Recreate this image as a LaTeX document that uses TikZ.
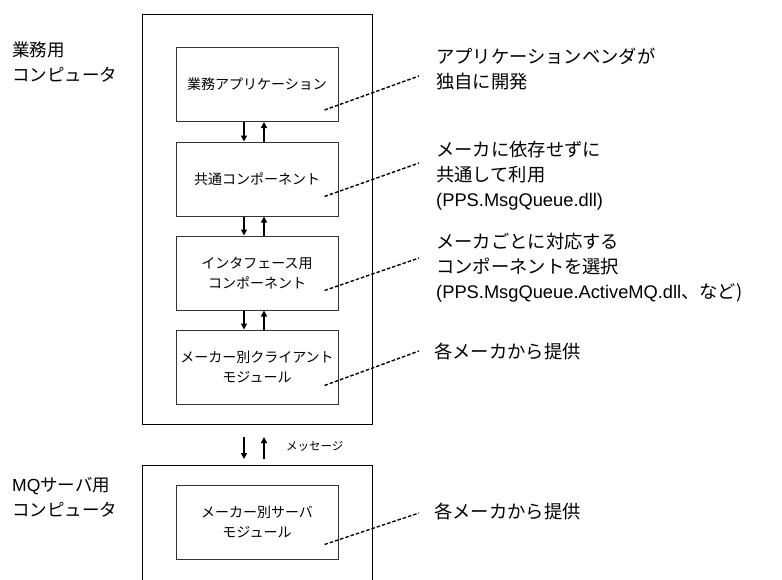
\documentclass[tikz,border=0pt]{standalone}
\usepackage{fontspec}
\setmainfont{Liberation Sans}
\newfontfamily\jp{Noto Sans CJK JP}
\usetikzlibrary{arrows.meta}
\tikzset{
  inbox/.style={draw=black!80, line width=1pt, minimum width=162pt, minimum height=74pt, align=center,
    font=\jp\fontsize{14}{20}\selectfont, inner sep=0pt},
  outbox/.style={draw=black, line width=1pt, minimum width=230pt, inner sep=0pt},
  arr/.style={line width=1.6pt, -{Triangle[length=6pt,width=6pt]}},
  note/.style={anchor=west, align=left, inner sep=0pt, font=\jp\fontsize{18.3}{25}\selectfont},
  side/.style={anchor=west, align=left, inner sep=0pt, font=\jp\fontsize{17.5}{25}\selectfont},
  lead/.style={line width=1.4pt, dash pattern=on 3.5pt off 2pt},
}
\begin{document}
\begin{tikzpicture}[x=1pt,y=-1pt]
\useasboundingbox (0,0) rectangle (782,579);
% outer boxes
\node[outbox, minimum height=410pt] (pc) at (257,219) {};
\draw[line width=1pt] (142,580) -- (142,465) coordinate (srvtl) -- (372,465) coordinate (srvtr) -- (372,580);
% inner boxes
\node[inbox] (b1) at (257,84.5) {業務アプリケーション};
\node[inbox] (b2) at (257,179) {共通コンポーネント};
\node[inbox] (b3) at (257,273) {インタフェース用\\コンポーネント};
\node[inbox] (b4) at (257,367) {メーカー別クライアント\\モジュール};
\node[inbox] (b5) at (257,522) {メーカー別サーバ\\モジュール};
% arrows
\foreach \a/\b in {b1/b2,b2/b3,b3/b4}{
  \draw[arr] ([xshift=-13pt]\a.south) -- ([xshift=-13pt]\b.north);
  \draw[arr] ([xshift=7pt]\b.north) -- ([xshift=7pt]\a.south);
}
\coordinate (m1s) at (244,437);
\coordinate (m1e) at (244,459);
\coordinate (m2s) at (264,459);
\coordinate (m2e) at (264,437);
\draw[arr] (m1s) -- (m1e);
\draw[arr] (m2s) -- (m2e);
\node[anchor=west, inner sep=0pt, font=\jp\fontsize{11.5}{14}\selectfont] (msg) at (286,446) {メッセージ};
% side labels
\node[side] (l1) at (12,62.5) {業務用\\コンピュータ};
\node[side] (l2) at (12,497.5) {{\fontspec{Liberation Sans}MQ}サーバ用\\コンピュータ};
% notes
\node[note] (n1) at (436,69.5) {アプリケーションベンダが\\独自に開発};
\node[note] (n2) at (436,176) {メーカに依存せずに\\共通して利用\\{\fontspec{Liberation Sans}(PPS.MsgQueue.dll)}};
\node[note] (n3) at (436,268) {メーカごとに対応する\\コンポーネントを選択\\{\fontspec{Liberation Sans}(PPS.MsgQueue.ActiveMQ.dll}、など)};
\node[note] (n4) at (434,352) {各メーカから提供};
\node[note] (n5) at (434,512) {各メーカから提供};
% leader lines
\coordinate (e1) at (419,76);
\coordinate (e2) at (419,163);
\coordinate (e3) at (419,258);
\coordinate (e4) at (419,351);
\coordinate (e5) at (419,513);
\draw[lead] ([xshift=-14pt,yshift=12pt]b1.south east) -- (e1);
\draw[lead] ([xshift=-14pt,yshift=20pt]b2.south east) -- (e2);
\draw[lead] ([xshift=-14pt,yshift=20pt]b3.south east) -- (e3);
\draw[lead] ([xshift=-14pt,yshift=19pt]b4.south east) -- (e4);
\draw[lead] ([xshift=-14pt,yshift=15pt]b5.south east) -- (e5);
\end{tikzpicture}
\end{document}
